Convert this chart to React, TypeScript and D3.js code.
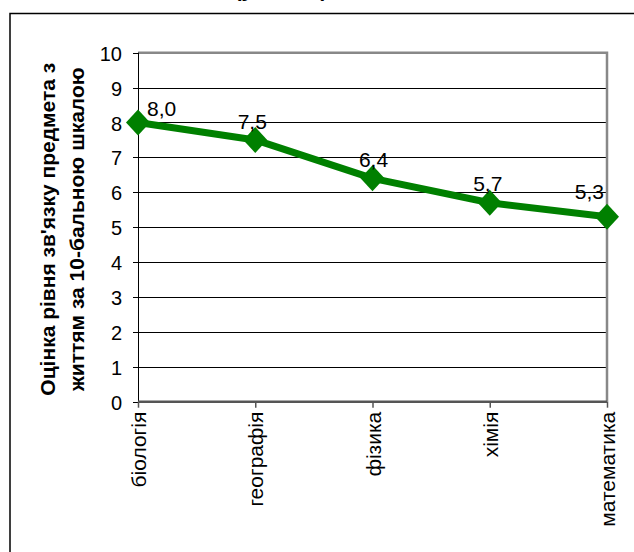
import React from "react";
import * as d3 from "d3";

// Subjects and their average "relevance to life" scores (10-point scale)
const categories: string[] = ["біологія", "географія", "фізика", "хімія", "математика"];
const scores: number[] = [8.0, 7.5, 6.4, 5.7, 5.3];
const yTicks: number[] = [0, 1, 2, 3, 4, 5, 6, 7, 8, 9, 10];
const yTitleLines: string[] = ["Оцінка рівня зв'язку предмета з", "життям за 10-бальною шкалою"];
const titleText = "(у балах)";

// Per-label placement relative to its point
const labelPlacement = [
  { dx: 9, dy: -7, anchor: "start" },
  { dx: -3, dy: -11, anchor: "middle" },
  { dx: 1, dy: -11, anchor: "middle" },
  { dx: -2, dy: -12, anchor: "middle" },
  { dx: -3, dy: -18, anchor: "end" },
];

const W = 634;
const H = 552;
const plot = { left: 138, right: 607, top: 52.7, bottom: 401.7 };
const font = "'Liberation Sans', Arial, sans-serif";
const green = "#008000";
const fs = 21;

const fmt = (v: number) => v.toFixed(1).replace(".", ",");

export default function App() {
  const x = d3.scalePoint<string>().domain(categories).range([plot.left, plot.right]);
  const y = d3.scaleLinear().domain([0, 10]).range([plot.bottom, plot.top]);

  const line = d3
    .line<number>()
    .x((_, i) => x(categories[i]) as number)
    .y((d) => y(d));

  const diamond = (cx: number, cy: number) =>
    `M${cx},${cy - 13}L${cx + 12},${cy}L${cx},${cy + 13}L${cx - 12},${cy}Z`;

  const yTitleCenter = (plot.top + plot.bottom) / 2 + 2;

  return (
    <svg
      width={W}
      height={H}
      style={{ position: "fixed", left: 0, top: 0, background: "#fff" }}
      fontFamily={font}
    >
      <rect x={0} y={0} width={W} height={H} fill="#fff" />

      {/* title, mostly above the visible area */}
      <text x={281} y={-3} textAnchor="middle" fontSize={fs} fontWeight="bold" fill="#000">
        {titleText}
      </text>

      {/* chart area frame */}
      <rect x={10} y={13.5} width={W + 20} height={H + 20} fill="none" stroke="#000" strokeWidth={1.5} />

      {/* horizontal gridlines */}
      {yTicks
        .filter((t) => t > 0 && t < 10)
        .map((t) => (
          <line
            key={t}
            x1={plot.left}
            x2={plot.right}
            y1={Math.round(y(t)) + 0.5}
            y2={Math.round(y(t)) + 0.5}
            stroke="#000"
            strokeWidth={1}
          />
        ))}

      {/* plot area border (top and right) */}
      <path
        d={`M${plot.left},${plot.top}H${plot.right}V${plot.bottom}`}
        fill="none"
        stroke="#888"
        strokeWidth={2.5}
      />

      {/* y axis */}
      <line x1={plot.left + 0.5} x2={plot.left + 0.5} y1={plot.top} y2={plot.bottom} stroke="#000" strokeWidth={1} />
      {yTicks.map((t) => (
        <g key={t}>
          <line
            x1={plot.left - 5}
            x2={plot.left}
            y1={Math.round(y(t)) + 0.5}
            y2={Math.round(y(t)) + 0.5}
            stroke="#000"
            strokeWidth={1}
          />
          <text x={plot.left - 16} y={y(t) + 8} textAnchor="end" fontSize={20} fill="#000">
            {t}
          </text>
        </g>
      ))}

      {/* x axis */}
      <line x1={plot.left} x2={plot.right} y1={plot.bottom} y2={plot.bottom} stroke="#555" strokeWidth={2.5} />
      {categories.map((c) => (
        <g key={c}>
          <line
            x1={(x(c) as number) + 0.5}
            x2={(x(c) as number) + 0.5}
            y1={plot.bottom}
            y2={plot.bottom + 6}
            stroke="#555"
            strokeWidth={1.5}
          />
          <text
            transform={`translate(${(x(c) as number) + 8},${plot.bottom + 10}) rotate(-90)`}
            textAnchor="end"
            fontSize={fs}
            fill="#000"
          >
            {c}
          </text>
        </g>
      ))}

      {/* y axis title */}
      {yTitleLines.map((l, i) => (
        <text
          key={i}
          transform={`translate(${55 + i * 29},${yTitleCenter}) rotate(-90)`}
          textAnchor="middle"
          fontSize={fs}
          fontWeight="bold"
          fill="#000"
        >
          {l}
        </text>
      ))}

      {/* series */}
      <path d={line(scores) ?? ""} fill="none" stroke={green} strokeWidth={7} strokeLinejoin="round" />
      {scores.map((v, i) => (
        <path key={i} d={diamond(x(categories[i]) as number, y(v))} fill={green} />
      ))}

      {/* data labels */}
      {scores.map((v, i) => {
        const p = labelPlacement[i];
        return (
          <text
            key={i}
            x={(x(categories[i]) as number) + p.dx}
            y={y(v) + p.dy}
            textAnchor={p.anchor as any}
            fontSize={fs}
            fill="#000"
          >
            {fmt(v)}
          </text>
        );
      })}
    </svg>
  );
}
